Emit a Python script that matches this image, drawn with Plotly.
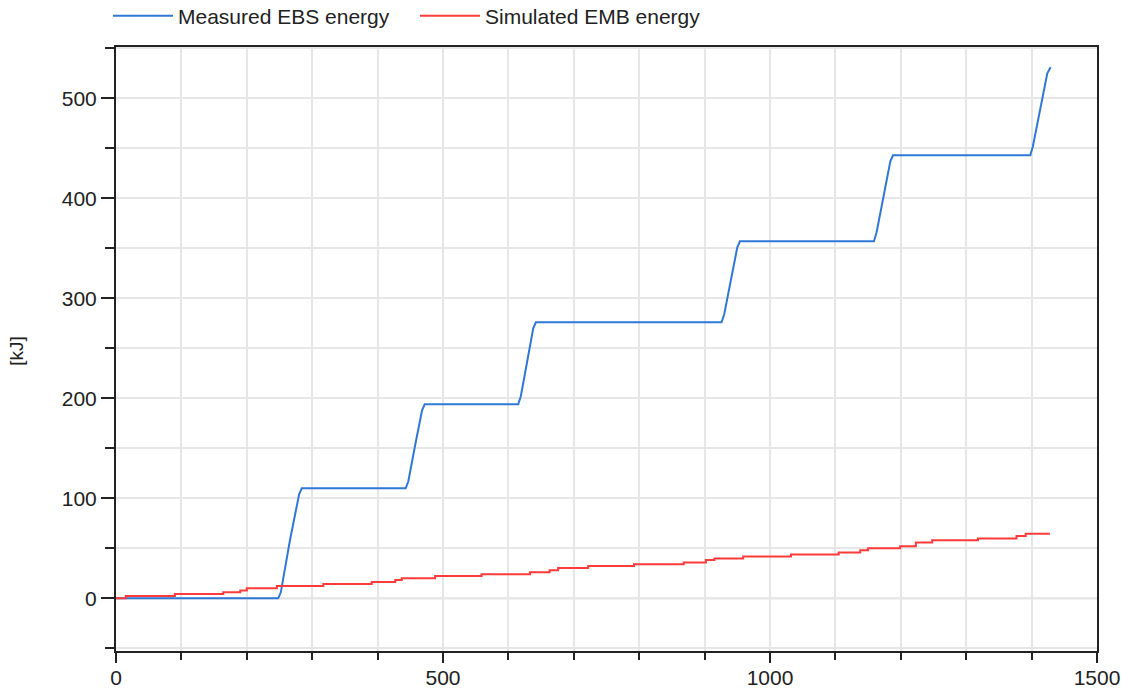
import plotly.graph_objects as go

# Measured EBS energy (blue) - time [s], energy [kJ]
ebs_t = [0, 248, 252, 266, 280, 284, 443, 447, 458, 468, 472, 615, 619, 630, 638, 642,
         926, 930, 942, 950, 954, 1159, 1163, 1175, 1184, 1188, 1398, 1402, 1414, 1424, 1429]
ebs_e = [0, 0, 6, 58, 104, 110, 110, 117, 155, 188, 194, 194, 202, 242, 270, 276,
         276, 284, 322, 351, 357, 357, 366, 405, 437, 443, 443, 452, 492, 525, 531]

# Simulated EMB energy (red) - step changes
emb_t = [0, 15, 90, 164, 190, 200, 246, 317, 391, 427, 437, 488, 559, 633, 663, 676,
         722, 792, 868, 902, 915, 959, 1032, 1105, 1138, 1150, 1199, 1223, 1248, 1318,
         1377, 1391, 1428]
emb_e = [0, 2.3, 4.3, 6, 7.7, 10, 12.3, 14.3, 16.3, 18.3, 20, 22.3, 24, 26, 28, 30.2,
         32.2, 34.1, 35.8, 38.2, 39.9, 41.9, 43.9, 45.9, 48, 50, 52, 55.7, 58.1, 59.8,
         62.2, 64.5, 64.5]

x_ticks = [0, 500, 1000, 1500]
y_ticks = [0, 100, 200, 300, 400, 500]

FONT = "Liberation Sans, Arial, sans-serif"

fig = go.Figure()
fig.add_trace(go.Scatter(x=ebs_t, y=ebs_e, mode="lines", name="Measured EBS energy",
                         line=dict(color="#2f78d6", width=2)))
fig.add_trace(go.Scatter(x=emb_t, y=emb_e, mode="lines", name="Simulated EMB energy",
                         line=dict(color="#ff3a3a", width=2, shape="hv")))

axis_common = dict(
    showline=True, linecolor="#222", linewidth=2, mirror=True,
    ticks="outside", tickcolor="#222", tickwidth=2,
    showgrid=True, gridcolor="#e6e6e6", gridwidth=2,
    tickfont=dict(family=FONT, size=21, color="#222"),
    zeroline=False, automargin=False,
)

fig.update_xaxes(**axis_common, range=[0, 1500], tickvals=x_ticks, ticklen=10,
                 ticklabelstandoff=-3,
                 minor=dict(dtick=100, tick0=0, ticks="outside", ticklen=7, tickcolor="#222",
                            showgrid=True, gridcolor="#e6e6e6", gridwidth=2))
fig.update_yaxes(**axis_common, range=[-52.7, 551.3], tickvals=y_ticks, ticklen=13,
                 minor=dict(dtick=50, tick0=0, ticks="outside", ticklen=9, tickcolor="#222",
                            showgrid=True, gridcolor="#e6e6e6", gridwidth=2))

# zero reference line
fig.add_hline(y=0, line=dict(color="#c8c8c8", width=2), layer="below")

fig.add_annotation(text="[kJ]", textangle=-90, xref="paper", yref="paper",
                   x=-0.101, y=0.497, xanchor="center", yanchor="middle", showarrow=False,
                   font=dict(family=FONT, size=19, color="#222"))

fig.update_layout(
    width=1121, height=691,
    margin=dict(l=116, r=24, t=47, b=40, autoexpand=False),
    paper_bgcolor="white", plot_bgcolor="white",
    font=dict(family=FONT, size=21, color="#222"),
    showlegend=True,
    legend=dict(orientation="h", xref="container", yref="container",
                x=108 / 1121, y=1 - 16 / 691, xanchor="left", yanchor="middle",
                itemwidth=60, entrywidth=232, entrywidthmode="pixels",
                font=dict(family=FONT, size=21, color="#222"), bgcolor="rgba(0,0,0,0)"),
)

fig.write_html("out.html")
